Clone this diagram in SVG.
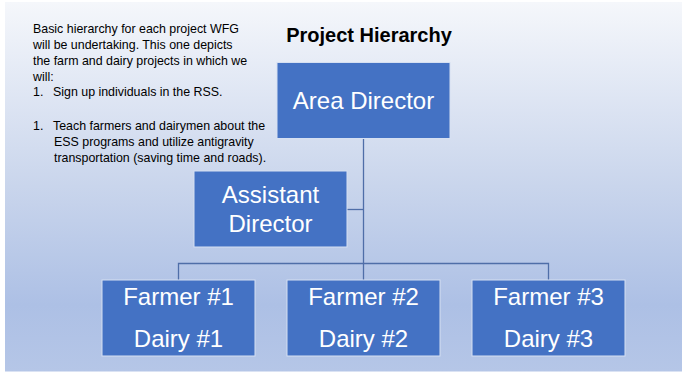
<svg xmlns="http://www.w3.org/2000/svg" width="682" height="372" viewBox="0 0 682 372">
<defs>
<linearGradient id="bg" x1="0" y1="0" x2="0" y2="1">
<stop offset="0" stop-color="#f5f7fb"/>
<stop offset="0.5" stop-color="#c9d5ec"/>
<stop offset="0.82" stop-color="#adc0e5"/>
<stop offset="1" stop-color="#b5c6e7"/>
</linearGradient>
<style>
.box{fill:#4472c4;stroke:#d6e0f2;stroke-width:1}
.lbl{font-family:"Liberation Sans",Arial,sans-serif;font-size:24px;fill:#ffffff;text-anchor:middle}
.note{font-family:"Liberation Sans",Arial,sans-serif;font-size:12.4px;fill:#000000}
.conn{stroke:#4f6ea8;stroke-width:1.3;fill:none}
</style>
</defs>
<rect x="0" y="0" width="682" height="372" fill="#ffffff"/>
<rect x="5" y="2" width="677" height="369.5" fill="url(#bg)"/>
<text x="369" y="42" font-family="'Liberation Sans',Arial,sans-serif" font-size="20" font-weight="bold" text-anchor="middle" fill="#000">Project Hierarchy</text>
<g id="description" class="note">
<text x="33" y="32.5">Basic hierarchy for each project WFG</text>
<text x="33" y="48.5">will be undertaking. This one depicts</text>
<text x="33" y="64.5">the farm and dairy projects in which we</text>
<text x="33" y="80.5">will:</text>
<text x="33" y="96">1.</text><text x="53" y="96">Sign up individuals in the RSS.</text>
<text x="33" y="129.5">1.</text><text x="53" y="129.5">Teach farmers and dairymen about the</text>
<text x="54" y="145.5">ESS programs and utilize antigravity</text>
<text x="54" y="161.5">transportation (saving time and roads).</text>
</g>
<g id="connectors">
<path class="conn" d="M363.5 138 V280"/>
<path class="conn" d="M347 209.5 H363.5"/>
<path class="conn" d="M178.5 280 V263.5 H548.5 V280"/>
</g>
<g id="area-director">
<rect class="box" x="277" y="62.5" width="173" height="76"/>
<text class="lbl" x="363.5" y="109" font-size="25">Area Director</text>
</g>
<g id="assistant-director">
<rect class="box" x="194" y="171" width="153" height="76"/>
<text class="lbl" x="270.5" y="203">Assistant</text>
<text class="lbl" x="270.5" y="232">Director</text>
</g>
<g id="farmer-1">
<rect class="box" x="102" y="280" width="153" height="76"/>
<text class="lbl" x="178.5" y="304.5">Farmer #1</text>
<text class="lbl" x="178.5" y="346.5">Dairy #1</text>
</g>
<g id="farmer-2">
<rect class="box" x="287" y="280" width="153" height="76"/>
<text class="lbl" x="363.5" y="304.5">Farmer #2</text>
<text class="lbl" x="363.5" y="346.5">Dairy #2</text>
</g>
<g id="farmer-3">
<rect class="box" x="472" y="280" width="153" height="76"/>
<text class="lbl" x="548.5" y="304.5">Farmer #3</text>
<text class="lbl" x="548.5" y="346.5">Dairy #3</text>
</g>
</svg>
